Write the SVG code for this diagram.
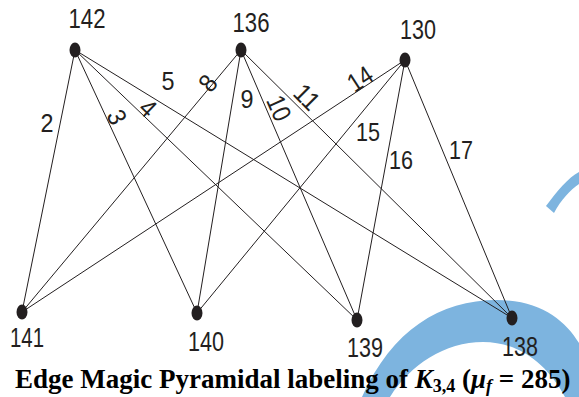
<svg xmlns="http://www.w3.org/2000/svg" width="579" height="397" viewBox="0 0 579 397">
<style>
.e{stroke:#231f20;stroke-width:1;fill:none}
.n{fill:#231f20}
.v{font-family:"Liberation Sans",Arial,sans-serif;font-size:27px;fill:#231f20;text-anchor:middle}
.l{font-family:"Liberation Sans",Arial,sans-serif;font-size:26px;fill:#231f20;text-anchor:middle}
.t{font-family:"Liberation Serif","Times New Roman",serif;font-size:27px;font-weight:bold;fill:#000}
.wm{fill:#7db4df}
</style>
<g id="watermark">
<path class="wm" d="M362 397 C392 330 440 300 497 300 C540 300 565 320 579 343 L579 397 L565 397 C548 365 520 342 483 342 C445 342 410 365 390 397 Z"/>
<path class="wm" d="M546 206 C558 190 568 178 579 172 L579 184 C570 190 561 200 554 213 Z"/>
</g>
<g id="edges">
<line class="e" x1="75" y1="50" x2="22" y2="312"/>
<line class="e" x1="75" y1="50" x2="197" y2="313"/>
<line class="e" x1="75" y1="50" x2="357" y2="320"/>
<line class="e" x1="75" y1="50" x2="512" y2="318"/>
<line class="e" x1="241" y1="50" x2="22" y2="312"/>
<line class="e" x1="241" y1="50" x2="197" y2="313"/>
<line class="e" x1="241" y1="50" x2="357" y2="320"/>
<line class="e" x1="241" y1="50" x2="512" y2="318"/>
<line class="e" x1="405" y1="60" x2="22" y2="312"/>
<line class="e" x1="405" y1="60" x2="197" y2="313"/>
<line class="e" x1="405" y1="60" x2="357" y2="320"/>
<line class="e" x1="405" y1="60" x2="512" y2="318"/>
</g>
<g id="edge-labels">
<text class="l" x="47" y="132" textLength="13" lengthAdjust="spacingAndGlyphs">2</text>
<text class="l" transform="translate(117,117) rotate(65)" x="0" y="9" textLength="13" lengthAdjust="spacingAndGlyphs">3</text>
<text class="l" transform="translate(148,108) rotate(44)" x="0" y="9" textLength="13" lengthAdjust="spacingAndGlyphs">4</text>
<text class="l" x="168" y="90" textLength="13" lengthAdjust="spacingAndGlyphs">5</text>
<text class="l" transform="translate(208,83) rotate(-52)" x="0" y="9" textLength="13" lengthAdjust="spacingAndGlyphs">8</text>
<text class="l" x="247" y="108" textLength="13" lengthAdjust="spacingAndGlyphs">9</text>
<text class="l" transform="translate(279,108) rotate(66)" x="0" y="9" textLength="25" lengthAdjust="spacingAndGlyphs">10</text>
<text class="l" transform="translate(307,97) rotate(45)" x="0" y="9" textLength="25" lengthAdjust="spacingAndGlyphs">11</text>
<text class="l" transform="translate(360,79) rotate(-33)" x="0" y="9" textLength="25" lengthAdjust="spacingAndGlyphs">14</text>
<text class="l" x="368" y="141" textLength="24" lengthAdjust="spacingAndGlyphs">15</text>
<text class="l" x="401" y="169" textLength="24" lengthAdjust="spacingAndGlyphs">16</text>
<text class="l" x="461" y="159" textLength="24" lengthAdjust="spacingAndGlyphs">17</text>
</g>
<g id="v142"><ellipse class="n" cx="75" cy="50" rx="5.5" ry="7.5"/><text class="v" x="87" y="28" textLength="37" lengthAdjust="spacingAndGlyphs">142</text></g>
<g id="v136"><ellipse class="n" cx="241" cy="50" rx="5.5" ry="7.5"/><text class="v" x="251" y="32" textLength="37" lengthAdjust="spacingAndGlyphs">136</text></g>
<g id="v130"><ellipse class="n" cx="405" cy="60" rx="5.5" ry="7.5"/><text class="v" x="418" y="39" textLength="36" lengthAdjust="spacingAndGlyphs">130</text></g>
<g id="v141"><ellipse class="n" cx="22" cy="312" rx="5.5" ry="7.5"/><text class="v" x="27" y="347" textLength="34" lengthAdjust="spacingAndGlyphs">141</text></g>
<g id="v140"><ellipse class="n" cx="197" cy="313" rx="5.5" ry="7.5"/><text class="v" x="206" y="351" textLength="36" lengthAdjust="spacingAndGlyphs">140</text></g>
<g id="v139"><ellipse class="n" cx="357" cy="320" rx="5.5" ry="7.5"/><text class="v" x="365" y="357" textLength="36" lengthAdjust="spacingAndGlyphs">139</text></g>
<g id="v138"><ellipse class="n" cx="512" cy="318" rx="5.5" ry="7.5"/><text class="v" x="520" y="356" textLength="36" lengthAdjust="spacingAndGlyphs">138</text></g>
<g id="caption">
<text class="t" x="15" y="388">Edge Magic Pyramidal labeling of <tspan font-style="italic">K</tspan><tspan font-size="18" dy="4">3,4</tspan><tspan dy="-4"> (</tspan><tspan font-style="italic">μ</tspan><tspan font-style="italic" font-size="18" dy="4">f</tspan><tspan dy="-4"> = 285)</tspan></text>
</g>
</svg>
